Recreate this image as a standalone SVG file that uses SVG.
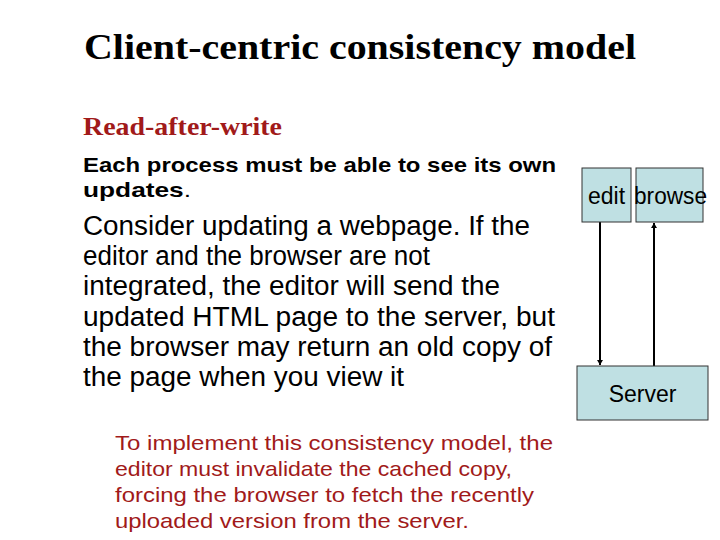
<svg xmlns="http://www.w3.org/2000/svg" width="720" height="540" viewBox="0 0 720 540">
<style>
.t{font-family:"Liberation Serif",serif;font-weight:bold}
.s{font-family:"Liberation Sans",Arial,sans-serif}
.box{fill:#bfe0e3;stroke:#333;stroke-width:1}
.c{stroke:#000;stroke-width:2;fill:none}
</style>
<defs><marker id="a" markerWidth="8" markerHeight="8" refX="5" refY="3" orient="auto" markerUnits="userSpaceOnUse"><path d="M0,0 L5,3 L0,6 z" fill="#000"/></marker></defs>
<rect width="720" height="540" fill="#fff"/>
<text class="t" x="84" y="59" font-size="36" textLength="552" lengthAdjust="spacingAndGlyphs">Client-centric consistency model</text>
<text class="t" x="83" y="135" font-size="25" fill="#a11a1a" textLength="199" lengthAdjust="spacingAndGlyphs">Read-after-write</text>
<text class="s" font-size="21" font-weight="bold" x="83" y="172" textLength="473" lengthAdjust="spacingAndGlyphs">Each process must be able to see its own</text>
<text class="s" font-size="21" font-weight="bold" x="83" y="197" textLength="108" lengthAdjust="spacingAndGlyphs">updates<tspan font-weight="normal">.</tspan></text>
<g class="s" font-size="27">
<text x="83" y="235" textLength="447" lengthAdjust="spacingAndGlyphs">Consider updating a webpage. If the</text>
<text x="83" y="265" textLength="347" lengthAdjust="spacingAndGlyphs">editor and the browser are not</text>
<text x="83" y="295" textLength="417" lengthAdjust="spacingAndGlyphs">integrated, the editor will send the</text>
<text x="83" y="326" textLength="472" lengthAdjust="spacingAndGlyphs">updated HTML page to the server, but</text>
<text x="83" y="356" textLength="469" lengthAdjust="spacingAndGlyphs">the browser may return an old copy of</text>
<text x="83" y="386" textLength="321" lengthAdjust="spacingAndGlyphs">the page when you view it</text>
</g>
<g class="s" font-size="21" fill="#a11a1a">
<text x="115" y="450" textLength="438" lengthAdjust="spacingAndGlyphs">To implement this consistency model, the</text>
<text x="115" y="476" textLength="397" lengthAdjust="spacingAndGlyphs">editor must invalidate the cached copy,</text>
<text x="115" y="502" textLength="419" lengthAdjust="spacingAndGlyphs">forcing the browser to fetch the recently</text>
<text x="115" y="528" textLength="354" lengthAdjust="spacingAndGlyphs">uploaded version from the server.</text>
</g>
<g id="connectors">
<line class="c" x1="600" y1="222" x2="600" y2="365" marker-end="url(#a)"/>
<line class="c" x1="654" y1="366" x2="654" y2="223" marker-end="url(#a)"/>
</g>
<g id="edit"><rect class="box" x="582" y="168" width="49" height="54"/><text class="s" x="606.5" y="204" font-size="23" text-anchor="middle">edit</text></g>
<g id="browse"><rect class="box" x="636" y="168" width="67" height="54"/><text class="s" x="634" y="204" font-size="23" textLength="73" lengthAdjust="spacingAndGlyphs">browse</text></g>
<g id="server"><rect class="box" x="577" y="366" width="131" height="54"/><text class="s" x="642.5" y="402" font-size="23" text-anchor="middle">Server</text></g>
</svg>
